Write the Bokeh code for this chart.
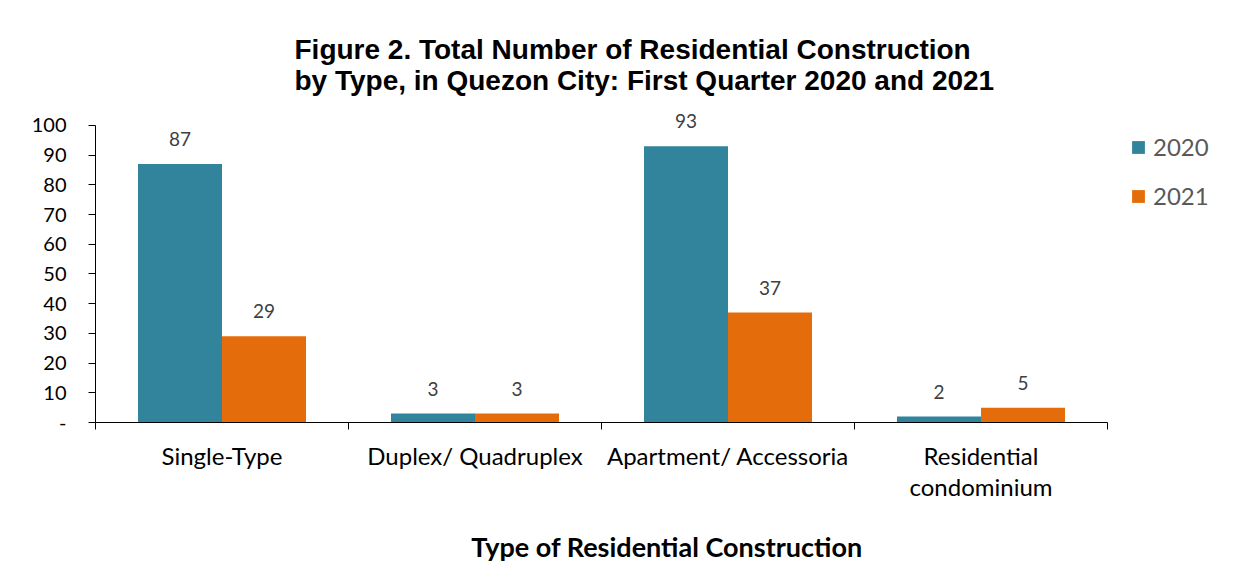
from bokeh.plotting import figure
from bokeh.models import (ColumnDataSource, Range1d, FixedTicker, Legend, LegendItem,
                          LabelSet, Title)
from bokeh.core.properties import value
from bokeh.transform import dodge
from bokeh.embed import file_html
from bokeh.resources import INLINE

categories = ["Single-Type", "Duplex/ Quadruplex", "Apartment/ Accessoria", "Residential\ncondominium"]
years = ["2020", "2021"]
values_2020 = [87, 3, 93, 2]
values_2021 = [29, 3, 37, 5]
y_ticks = [0, 10, 20, 30, 40, 50, 60, 70, 80, 90, 100]
title_lines = ["Figure 2. Total Number of Residential Construction",
               "by Type, in Quezon City: First Quarter 2020 and 2021"]
x_title = "Type of Residential Construction"

C2020 = "#31849b"
C2021 = "#e46c0a"

n = len(categories)
pos = [i + 0.5 for i in range(n)]
src = ColumnDataSource(dict(
    x=pos, v2020=values_2020, v2021=values_2021,
    t2020=[str(v) for v in values_2020], t2021=[str(v) for v in values_2021]))

# the frame extends right past the last category to host the legend (no outline)
p = figure(width=1238, height=565, output_backend="svg", toolbar_location=None,
           x_range=Range1d(0, n + 0.5178), y_range=Range1d(0, 105.7),
           min_border_left=95, min_border_right=0, min_border_top=108, min_border_bottom=141)
p.outline_line_color = None
p.xgrid.visible = False
p.ygrid.visible = False
p.background_fill_color = "white"
p.border_fill_color = "white"

bw = 0.332
r1 = p.vbar(x=dodge("x", -bw / 2, range=p.x_range), top="v2020", width=bw, source=src,
            fill_color=C2020, line_color=None)
r2 = p.vbar(x=dodge("x", bw / 2, range=p.x_range), top="v2021", width=bw, source=src,
            fill_color=C2021, line_color=None)

for col, t, off in (("v2020", "t2020", -bw / 2), ("v2021", "t2021", bw / 2)):
    p.add_layout(LabelSet(x=dodge("x", off, range=p.x_range), y=col, text=t, source=src,
                          y_offset=18, text_align="center", text_baseline="alphabetic",
                          text_font=value("Lato"), text_font_size=value("19px"),
                          text_color="#404040"))

# y axis
ya = p.yaxis[0]
ya.bounds = (0, 100)
ya.ticker = FixedTicker(ticks=y_ticks, minor_ticks=[])
ya.major_label_overrides = {0: "-"}
ya.major_tick_in = 0
ya.major_tick_out = 7
ya.minor_tick_in = 0
ya.minor_tick_out = 0
ya.axis_line_color = "black"
ya.major_tick_line_color = "black"
ya.major_label_text_font = "Lato"
ya.major_label_text_font_size = "20px"
ya.major_label_text_color = "black"
ya.major_label_standoff = 22

# x axis
xa = p.xaxis[0]
xa.bounds = (0, n)
xa.ticker = FixedTicker(ticks=pos, minor_ticks=list(range(n + 1)))
xa.major_label_overrides = {p_: c for p_, c in zip(pos, categories)}
xa.major_tick_in = 0
xa.major_tick_out = 0
xa.minor_tick_in = 0
xa.minor_tick_out = 7
xa.minor_tick_line_color = "black"
xa.axis_line_color = "black"
xa.major_label_text_font = "Lato"
xa.major_label_text_font_size = "24px"
xa.major_label_text_line_height = 1.08
xa.major_label_text_color = "black"
xa.major_label_standoff = 11
xa.axis_label = x_title
xa.axis_label_text_font = "Lato"
xa.axis_label_text_font_size = "27px"
xa.axis_label_text_font_style = "bold"
xa.axis_label_text_color = "black"
xa.axis_label_standoff = 26

p.add_layout(Title(text="\n".join(title_lines),
                   text_font="Liberation Sans", text_font_size="28px", text_color="black",
                   text_font_style="bold", text_line_height=1.0,
                   align="left", offset=199, standoff=26), "above")

legend = Legend(items=[LegendItem(label=years[0], renderers=[r1]),
                       LegendItem(label=years[1], renderers=[r2])],
                location=(1035, 212), padding=0, margin=0, spacing=20,
                glyph_width=16, glyph_height=16, label_height=24, label_standoff=7,
                label_text_font="Lato", label_text_font_size="24px",
                label_text_color="#595959", border_line_color=None,
                background_fill_alpha=0)
p.add_layout(legend, "center")

open("out.html", "w").write(file_html(p, INLINE))
